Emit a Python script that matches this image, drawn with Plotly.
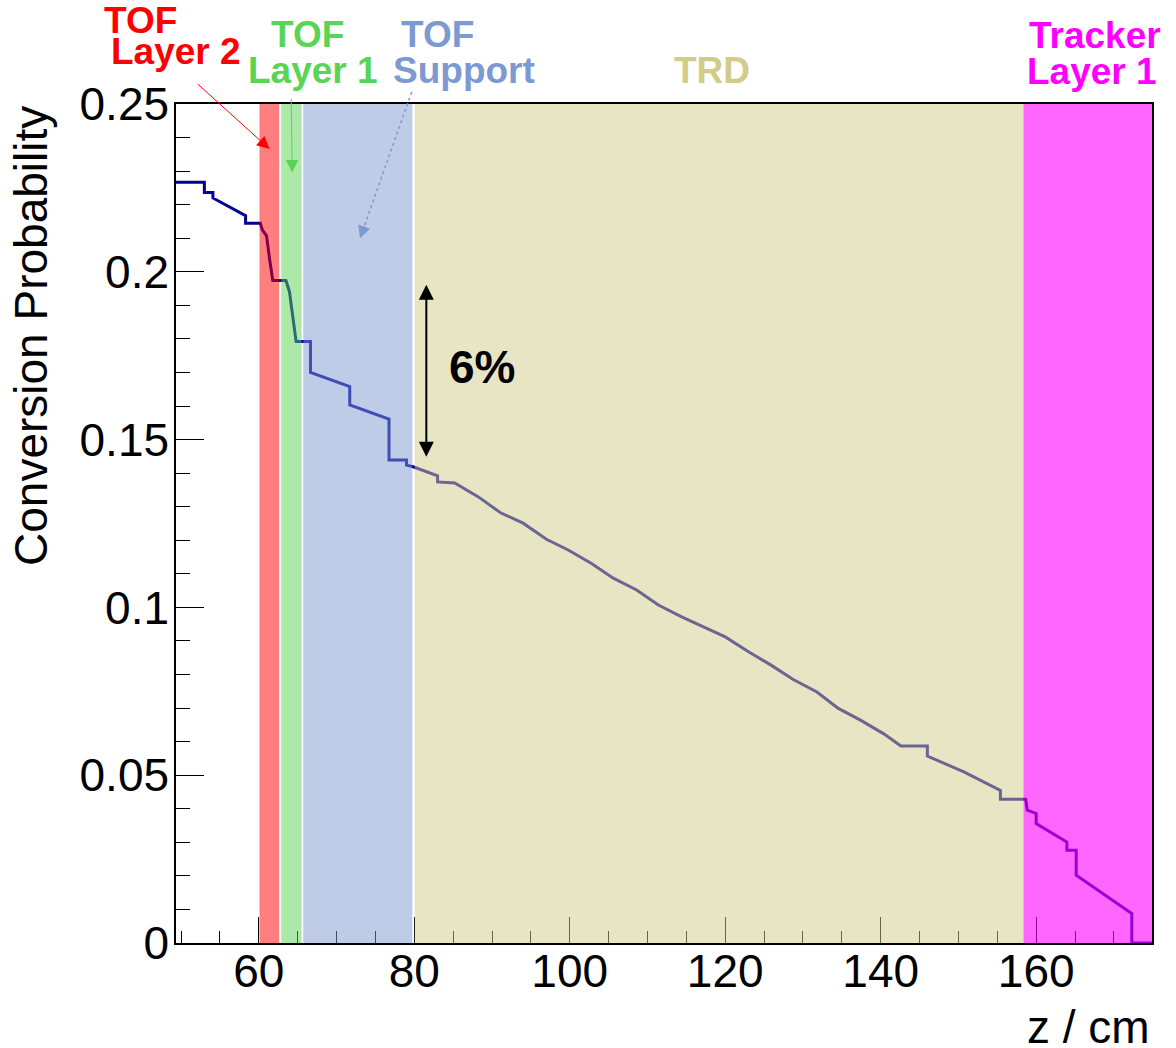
import plotly.graph_objects as go

# conversion probability along z
z_vals = [49.35, 53.0, 53.0, 54.1, 54.1, 58.3, 58.3, 60.2, 60.45, 61.0, 61.4, 61.8,
          63.5, 63.95, 64.8, 66.65, 66.65, 71.7, 71.7, 76.75, 76.75, 79.0, 79.0, 79.85,
          83.0, 83.0, 85.2, 88.2, 91.1, 94.0, 97.0, 99.8, 102.8, 105.6, 108.6, 111.4,
          114.4, 117.4, 120.0, 123.0, 125.9, 128.75, 131.8, 134.55, 137.4, 140.35, 142.6,
          146.0, 146.0, 150.7, 155.4, 155.4, 158.65, 158.85, 160.0, 160.0, 163.95, 163.95,
          165.15, 165.15, 172.3, 172.3, 174.9]
prob = [0.2267, 0.2267, 0.2236, 0.2236, 0.2220, 0.2167, 0.2145, 0.2145, 0.2125, 0.2107,
        0.2036, 0.1974, 0.1974, 0.1940, 0.1792, 0.1792, 0.1700, 0.1658, 0.1603, 0.1561,
        0.1439, 0.1439, 0.1424, 0.1419, 0.1392, 0.1374, 0.1371, 0.1330, 0.1282, 0.1251,
        0.1203, 0.1171, 0.1131, 0.1087, 0.1052, 0.1007, 0.0972, 0.0939, 0.0912, 0.0868,
        0.0828, 0.0785, 0.0748, 0.0699, 0.0664, 0.0624, 0.0587, 0.0587, 0.0557, 0.0510,
        0.0455, 0.0428, 0.0428, 0.0396, 0.0386, 0.0356, 0.0301, 0.0276, 0.0276, 0.0202,
        0.0088, 0.0, 0.0]

# detector regions
region_start = [60.09, 62.88, 65.72, 80.05, 158.37]
region_end = [62.63, 65.5, 79.75, 158.37, 174.9]
region_fill = ["rgba(255,0,0,0.5)", "rgba(89,212,84,0.5)", "rgba(125,153,209,0.5)",
               "rgba(209,204,137,0.5)", "rgba(255,0,255,0.6)"]

FONT = "Liberation Sans"

fig = go.Figure()
fig.add_trace(go.Scatter(x=z_vals, y=prob, mode="lines",
                         line=dict(color="#000099", width=3), showlegend=False))

for x0, x1, col in zip(region_start, region_end, region_fill):
    fig.add_shape(type="rect", xref="x", yref="y", x0=x0, x1=x1, y0=0, y1=0.25,
                  fillcolor=col, line_width=0, layer="above")

ann = []
# labels above the frame: (text, x, y, colour)
labels = [("TOF", -0.0359, 1.0995, "#ff0000"), ("Layer 2", 0.0, 1.0620, "#ff0000"),
          ("TOF", 0.1352, 1.0834, "#59d454"), ("Layer 1", 0.1404, 1.0405, "#59d454"),
          ("TOF", 0.2684, 1.0834, "#7d99d1"), ("Support", 0.2951, 1.0405, "#7d99d1"),
          ("TRD", 0.5492, 1.0405, "#d1cc89"),
          ("Tracker", 0.9416, 1.0822, "#ff00ff"), ("Layer 1", 0.9385, 1.0393, "#ff00ff")]
for txt, x, y, col in labels:
    ann.append(dict(text="<b>%s</b>" % txt, x=x, y=y, xref="paper", yref="paper",
                    xanchor="center", yanchor="middle", showarrow=False,
                    font=dict(family=FONT, size=37, color=col)))

# arrows
ann.append(dict(x=61.38, y=0.2366, xref="x", yref="y", ax=-73, ay=-66, text="",
                showarrow=True, arrowhead=2, arrowsize=2.5, arrowwidth=1, arrowcolor="#ff0000"))
ann.append(dict(x=64.3, y=0.2296, xref="x", yref="y", ax=-1, ay=-75, text="",
                showarrow=True, arrowhead=2, arrowsize=2.5, arrowwidth=1, arrowcolor="#59d454"))
ann.append(dict(x=0.1885, y=0.8399, xref="paper", yref="paper", ax=5, ay=-14, text="",
                showarrow=True, arrowhead=2, arrowsize=2.5, arrowwidth=1, arrowcolor="#7d99d1"))
fig.add_shape(type="line", xref="paper", yref="paper", x0=0.2415, y0=1.0143,
              x1=0.1885, y1=0.8399, line=dict(color="#7d99d1", width=1.5, dash="dot"))
ann.append(dict(x=81.55, y=0.1449, xref="x", yref="y", ax=81.55, ay=0.1966,
                axref="x", ayref="y", text="", showarrow=True, arrowhead=2,
                arrowside="end+start", arrowsize=1.5, arrowwidth=2, arrowcolor="black"))
ann.append(dict(text="<b>6%</b>", x=88.67, y=0.1715, xref="x", yref="y",
                xanchor="center", yanchor="middle", showarrow=False,
                font=dict(family=FONT, size=46, color="black")))

# axis titles
ann.append(dict(text="Conversion Probability", x=-0.1486, y=1.0, xref="paper", yref="paper",
                xanchor="center", yanchor="top", textangle=-90, showarrow=False,
                font=dict(family=FONT, size=46, color="black")))
ann.append(dict(text="z / cm", x=1.0, y=-0.1005, xref="paper", yref="paper",
                xanchor="right", yanchor="middle", showarrow=False,
                font=dict(family=FONT, size=46, color="black")))

fig.update_layout(
    width=1176, height=1048,
    margin=dict(l=176, r=24, t=104, b=105),
    paper_bgcolor="white", plot_bgcolor="white",
    font=dict(family=FONT, size=46, color="black"),
    annotations=ann,
    xaxis=dict(range=[49.35, 174.9], tick0=0, dtick=20, ticks="inside", ticklen=26,
               tickwidth=1, tickcolor="black", showline=True, linecolor="black",
               linewidth=1.5, mirror=True, showgrid=False, zeroline=False,
               minor=dict(dtick=5, ticks="inside", ticklen=12, tickcolor="black", showgrid=False),
               tickfont=dict(size=46), ticklabelstandoff=-13),
    yaxis=dict(range=[0, 0.25], tick0=0, dtick=0.05, ticks="inside", ticklen=28,
               tickwidth=1, tickcolor="black", showline=True, linecolor="black",
               linewidth=1.5, mirror=True, showgrid=False, zeroline=False,
               minor=dict(dtick=0.01, ticks="inside", ticklen=14, tickcolor="black", showgrid=False),
               tickvals=[0, 0.05, 0.1, 0.15, 0.2, 0.25],
               ticktext=["0", "0.05", "0.1", "0.15", "0.2", "0.25"],
               tickfont=dict(size=46), ticklabelstandoff=-4),
)

fig.write_html("out.html", config={"displayModeBar": False},
               post_script="document.body.style.margin='0';")
